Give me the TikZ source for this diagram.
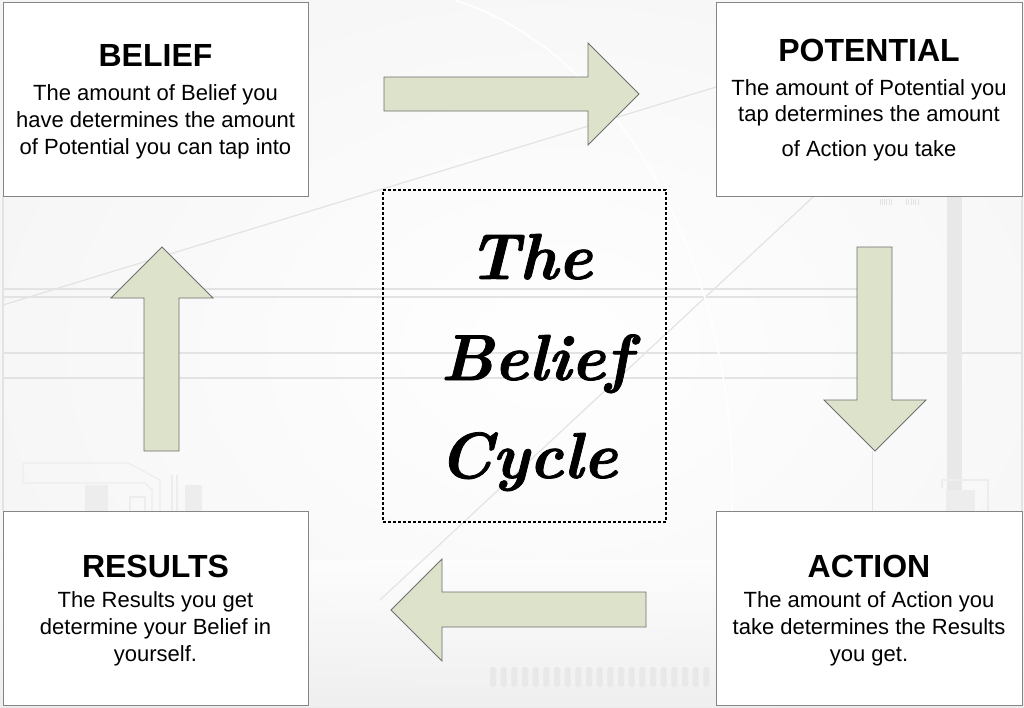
\documentclass[tikz,border=0pt]{standalone}
\usepackage{fontspec}
\setmainfont{Liberation Sans}
\newfontfamily\cyclefont[BoldItalicFeatures={FakeBold=1.2}]{Latin Modern Roman}
\definecolor{arrowfill}{HTML}{DDE2CB}
\definecolor{arrowline}{HTML}{6E6E6E}
\definecolor{boxline}{HTML}{858585}
\definecolor{bgline}{HTML}{E3E3E3}
\definecolor{bgbar}{HTML}{E8E8E8}
\definecolor{bgfaint}{HTML}{EDEDED}
\definecolor{bgouter}{HTML}{EAEAEA}
\tikzset{
  cardbox/.style={draw=boxline, line width=1pt, fill=white, inner sep=0pt},
  titletext/.style={font=\fontsize{32}{38}\selectfont\bfseries, inner sep=0pt, anchor=base},
  bodytext/.style={font=\fontsize{22}{27}\selectfont, inner sep=0pt, anchor=base},
  cycletext/.style={font=\cyclefont\fontsize{65}{78}\selectfont\bfseries\itshape, inner sep=0pt, anchor=base},
  blockarrow/.style={draw=arrowline, fill=arrowfill, line width=0.9pt, line join=miter},
  bgstroke/.style={draw=bgline, line width=1.2pt},
  faintstroke/.style={draw=bgfaint, line width=1.2pt},
  centerbox/.style={draw=black, line width=1.3pt, dash pattern=on 3pt off 2pt, inner sep=0pt}
}
\begin{document}
\begin{tikzpicture}[x=1pt,y=-1pt]
\useasboundingbox (0,0) rectangle (1024,707);
% background
\shade[inner color=white, outer color=bgouter] (-150,-150) rectangle (1250,850);
\fill[white, opacity=0.5] (0,0) rectangle (1024,707);
\shade[top color=white, bottom color=bgouter, opacity=0.6] (0,560) rectangle (1024,707);
% background lines
\draw[bgstroke] (3,289) -- (857,289);
\draw[bgstroke] (3,297) -- (857,297);
\draw[bgstroke] (3,353) -- (1022,353);
\draw[bgstroke] (3,378) -- (857,378);
\draw[bgstroke] (3,196) -- (3,511);
\draw[bgstroke] (1022,196) -- (1022,511);
\draw[bgstroke] (3,305) -- (716,87);
\draw[bgstroke] (813,197) -- (380,600);
\draw[white, line width=1.6pt] (455,0) .. controls (640,60) and (740,300) .. (732,511);
\fill[bgbar] (947,197) rectangle (962,511);
\draw[bgstroke, line width=0.8pt] (872,451) -- (872,511);
\foreach \i in {0,...,5} \draw[bgline, line width=0.6pt] ({880+\i*2.2},199) -- ++(0,6);
\foreach \i in {0,...,5} \draw[bgline, line width=0.6pt] ({906+\i*2.4},199) -- ++(0,6);
\foreach \i in {0,...,20} \fill[bgbar, rounded corners=2.5pt] ({490+\i*10.67},667) rectangle ++(6,20);
% circuit-like shapes bottom left
\draw[faintstroke] (23,463) -- (128,463) -- (160,480) -- (160,511);
\draw[faintstroke] (23,463) -- (23,483) -- (145,483) -- (152,490) -- (152,511);
\draw[faintstroke] (172,475) -- (172,511);
\draw[faintstroke] (177,475) -- (177,511);
\fill[bgfaint] (85,485) rectangle (108,511);
\draw[faintstroke] (130,511) -- (130,497) -- (145,497) -- (145,511);
\fill[bgfaint, rounded corners=2pt] (185,485) rectangle (202,511);
% bottom right bracket
\draw[faintstroke] (942,480) -- (988,480) -- (988,511);
\draw[faintstroke] (942,480) -- (942,488);
\fill[bgfaint] (946,490) rectangle (975,511);
% block arrows
\draw[blockarrow] (384,77) -- (588,77) -- (588,43) -- (639,94) -- (588,145) -- (588,111) -- (384,111) -- cycle;
\draw[blockarrow] (857,247) -- (892,247) -- (892,400) -- (926,400) -- (875,451) -- (824,400) -- (857,400) -- cycle;
\draw[blockarrow] (646,592) -- (646,627) -- (442,627) -- (442,661) -- (391,610) -- (442,559) -- (442,592) -- cycle;
\draw[blockarrow] (179,451) -- (144,451) -- (144,298) -- (111,298) -- (162,247) -- (213,298) -- (179,298) -- cycle;
% boxes
\node[cardbox, minimum width=305, minimum height=194] (belief) at (155.5,99) {};
\node[cardbox, minimum width=306, minimum height=194] (potential) at (869,99) {};
\node[cardbox, minimum width=305, minimum height=194] (results) at (155.5,608) {};
\node[cardbox, minimum width=306, minimum height=194] (action) at (869,608) {};
\node[centerbox, minimum width=283, minimum height=332] (cycle) at (524.5,356) {};
% texts
\node[titletext] (beliefT) at (155.5,66) {BELIEF};
\node[bodytext] (beliefA) at (155.5,100) {The amount of Belief you};
\node[bodytext] (beliefB) at (155.5,127) {have determines the amount};
\node[bodytext] (beliefC) at (155.5,154) {of Potential you can tap into};
\node[titletext] (potentialT) at (869,61) {POTENTIAL};
\node[bodytext] (potentialA) at (869,95) {The amount of Potential you};
\node[bodytext] (potentialB) at (869,121) {tap determines the amount};
\node[bodytext] (potentialC) at (869,156) {of Action you take};
\node[titletext] (resultsT) at (155.5,577) {RESULTS};
\node[bodytext] (resultsA) at (155.5,607) {The Results you get};
\node[bodytext] (resultsB) at (155.5,634) {determine your Belief in};
\node[bodytext] (resultsC) at (155.5,661) {yourself.};
\node[titletext] (actionT) at (869,577) {ACTION};
\node[bodytext] (actionA) at (869,607) {The amount of Action you};
\node[bodytext] (actionB) at (869,634) {take determines the Results};
\node[bodytext] (actionC) at (869,661) {you get.};
\node[cycletext] (cycA) at (530,279) {The};
\node[cycletext] (cycB) at (536,380) {Belief};
\node[cycletext] (cycC) at (528,478) {Cycle};
\end{tikzpicture}
\end{document}
